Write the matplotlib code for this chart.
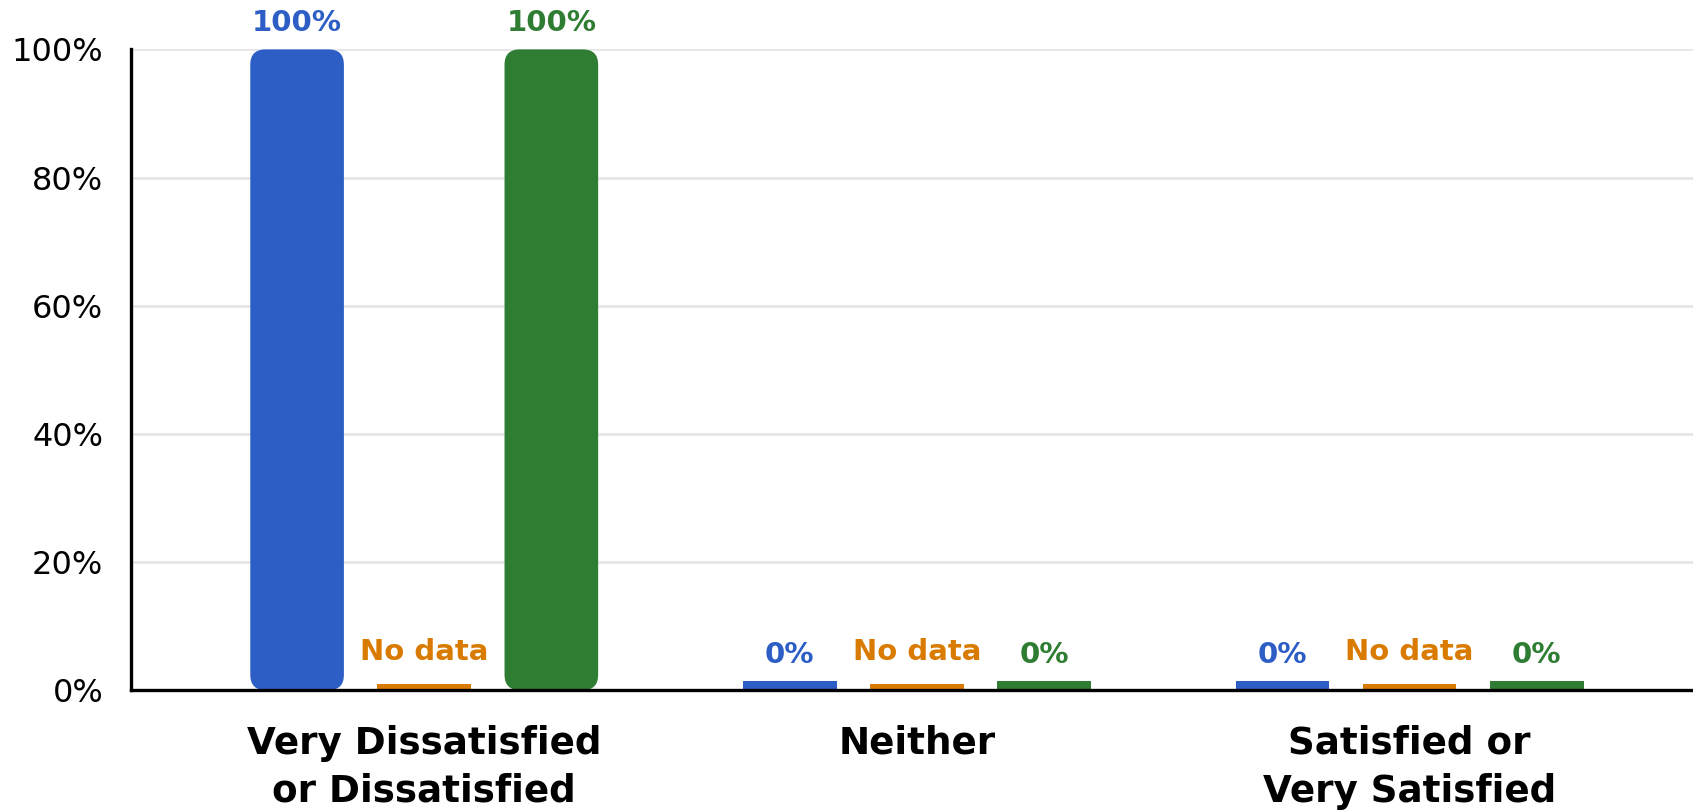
import numpy as np
import matplotlib
matplotlib.use("Agg")
import matplotlib.pyplot as plt
from matplotlib.patches import FancyBboxPatch
from matplotlib.ticker import PercentFormatter

categories = ["Very Dissatisfied\nor Dissatisfied", "Neither", "Satisfied or\nVery Satisfied"]
series_a = [100, 0, 0]          # blue
series_b = [None, None, None]   # orange, no responses
series_c = [100, 0, 0]          # green
y_ticks = [0, 20, 40, 60, 80, 100]

COLORS = ["#2D5EC6", "#D97B00", "#2E7D32"]
BAR_W = 0.19
OFFSETS = [-0.258, 0.0, 0.258]
ZERO_STUB = 1.4      # visible sliver for a 0% bar
NODATA_STUB = 0.95   # thinner sliver for missing values

fig = plt.figure(figsize=(16.93, 8.10), dpi=100)
ax = fig.add_axes([0.0774, 0.148, 0.9226, 0.791])
ax.set_xlim(-0.595, 2.575)
ax.set_ylim(0, 100)

# y-units per x-unit on screen, used to keep the corners circular
bb = ax.get_position()
px_x = bb.width * 1693 / (2.575 + 0.595)
px_y = bb.height * 810 / 100
aspect = px_x / px_y
radius = 0.031

x = np.arange(len(categories))
for vals, color, off in zip([series_a, series_b, series_c], COLORS, OFFSETS):
    for xi, v in zip(x, vals):
        left = xi + off - BAR_W / 2
        if v is None:
            ax.bar(xi + off, NODATA_STUB, width=BAR_W, color=color, zorder=3)
            ax.text(xi + off, NODATA_STUB + 2.8, "No data", ha="center", va="bottom",
                    color=color, fontsize=21, fontweight="bold")
        elif v == 0:
            ax.bar(xi + off, ZERO_STUB, width=BAR_W, color=color, zorder=3)
            ax.text(xi + off, ZERO_STUB + 1.95, f"{v}%", ha="center", va="bottom",
                    color=color, fontsize=21, fontweight="bold")
        else:
            patch = FancyBboxPatch((left, 0), BAR_W, v,
                                   boxstyle=f"round,pad=0,rounding_size={radius}",
                                   mutation_aspect=aspect, facecolor=color,
                                   edgecolor="none", zorder=3)
            ax.add_patch(patch)
            ax.text(xi + off, v + 1.95, f"{v}%", ha="center", va="bottom",
                    color=color, fontsize=21, fontweight="bold", clip_on=False)

ax.set_yticks(y_ticks)
ax.yaxis.set_major_formatter(PercentFormatter(decimals=0))
ax.set_xticks(x)
ax.set_xticklabels(categories, fontsize=26.8, fontweight="bold", linespacing=1.37)
ax.tick_params(axis="y", length=0, pad=20, labelsize=23)
ax.tick_params(axis="x", length=0, pad=25)

ax.grid(axis="y", color="#E6E6E6", lw=2, zorder=0)
ax.set_axisbelow(True)
for s in ["top", "right"]:
    ax.spines[s].set_visible(False)
ax.spines["left"].set_linewidth(2.4)
ax.spines["bottom"].set_linewidth(2.4)
ax.spines["bottom"].set_zorder(4)

plt.savefig("out.png", dpi=100)
plt.close()
